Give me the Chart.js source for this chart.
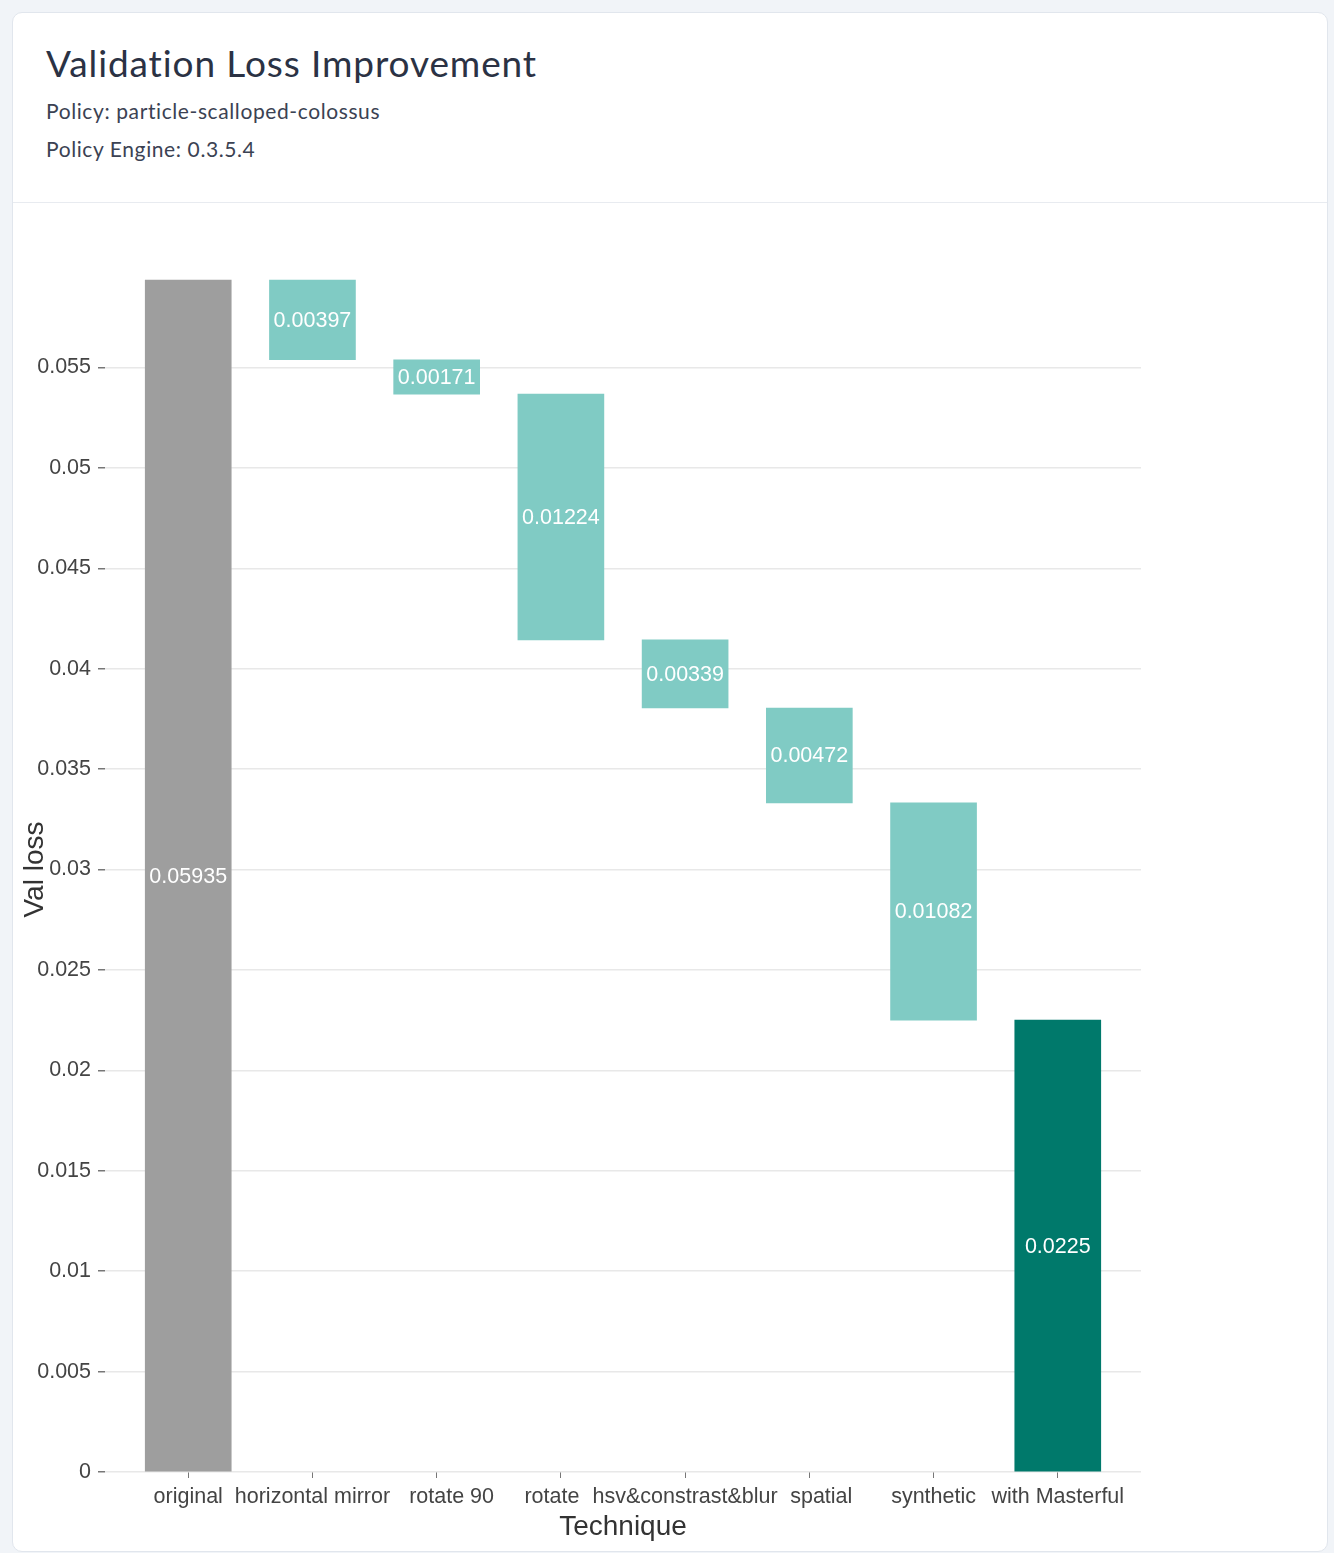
<!DOCTYPE html>
<html>
<head>
<meta charset="utf-8">
<title>Validation Loss Improvement</title>
<script src="https://cdn.jsdelivr.net/npm/chart.js@4.4.0/dist/chart.umd.min.js"></script>
<style>
  html, body { margin: 0; padding: 0; background: #f1f4f8; }
  .card {
    position: absolute; left: 12px; top: 12px;
    width: 1316px; height: 1540px; box-sizing: border-box;
    background: #fff; border: 1px solid #e1e6ed; border-radius: 10px;
  }
  .head { position: absolute; left: 0; top: 0; width: 100%; height: 189px; border-bottom: 1px solid #e8ebf0; }
  .head div { position: absolute; left: 33px; line-height: 1; white-space: nowrap; font-family: Lato, "Noto Sans", sans-serif; }
  .title { top: 31px; font-size: 37px; color: #2b3244; letter-spacing: 0.9px; }
  .sub { font-size: 21px; color: #3b4253; letter-spacing: 0.6px; }
  .chart-box { position: absolute; left: 0; top: 190px; width: 1314px; height: 1347px; }
</style>
</head>
<body>
<div class="card">
  <div class="head">
    <div class="title">Validation Loss Improvement</div>
    <div class="sub" style="top: 87px;">Policy: particle-scalloped-colossus</div>
    <div class="sub" style="top: 125px;">Policy Engine: 0.3.5.4</div>
  </div>
  <div class="chart-box"><canvas id="lossChart" width="1314" height="1347"></canvas></div>
</div>
<script>
// waterfall steps (names padded so neighbours don't collide), starting loss,
// per-technique improvement, final loss
var steps = ['original', 'horizontal mirror', '     rotate 90', 'rotate   ', 'hsv&constrast&blur', '    spatial', 'synthetic', 'with Masterful'];
var startLoss = 0.05935;
var gains = [0.00397, 0.00171, 0.01224, 0.00339, 0.00472, 0.01082];
var finalLoss = 0.0225;
var yTicks = [0, 0.005, 0.01, 0.015, 0.02, 0.025, 0.03, 0.035, 0.04, 0.045, 0.05, 0.055];

// floating bars: each gain hangs from the running loss
var ranges = [[0, startLoss]];
var labels = [startLoss];
var level = startLoss;
gains.forEach(function (g) {
  ranges.push([level - g, level]);
  labels.push(g);
  level -= g;
});
ranges.push([0, finalLoss]);
labels.push(finalLoss);

var colors = steps.map(function (s, i) {
  if (i === 0) return '#9e9e9e';
  if (i === steps.length - 1) return '#00796b';
  return '#80cbc4';
});

var axisFont = { family: '"Liberation Sans", Arial, sans-serif', size: 21.5 };

// white value text centred in each bar
var barLabels = {
  id: 'barLabels',
  afterDatasetsDraw: function (chart) {
    var ctx = chart.ctx;
    var meta = chart.getDatasetMeta(0);
    ctx.save();
    ctx.font = '21.5px "Liberation Sans", Arial, sans-serif';
    ctx.fillStyle = '#ffffff';
    ctx.textAlign = 'center';
    ctx.textBaseline = 'middle';
    meta.data.forEach(function (bar, i) {
      ctx.fillText(String(labels[i]), bar.x, (bar.y + bar.base) / 2 + 1);
    });
    ctx.restore();
  }
};

var ctx = document.getElementById('lossChart').getContext('2d');
var lossChart = new Chart(ctx, {
  type: 'bar',
  data: {
    datasets: [{
      data: ranges.map(function (r, i) { return { x: i, y: r }; }),
      backgroundColor: colors,
      borderWidth: 0,
      barThickness: 86
    }]
  },
  options: {
    responsive: false,
    animation: false,
    layout: { padding: { top: 64, right: 186, left: 0, bottom: 0 } },
    plugins: { legend: { display: false }, tooltip: { enabled: false } },
    scales: {
      x: {
        type: 'linear',
        offset: false,
        min: -0.67,
        max: 7.67,
        afterBuildTicks: function (scale) {
          scale.ticks = steps.map(function (s, i) { return { value: i }; });
        },
        afterFit: function (scale) { scale.height = 78; },
        ticks: {
          autoSkip: false,
          maxRotation: 0,
          padding: 6,
          color: '#444',
          font: axisFont,
          callback: function (v) { return steps[v]; }
        },
        grid: { offset: false, drawOnChartArea: false, tickLength: 6, tickColor: '#777' },
        border: { display: false },
        title: {
          display: true,
          text: 'Technique',
          color: '#333',
          font: { family: '"Liberation Sans", Arial, sans-serif', size: 28 },
          padding: { top: 0, bottom: 6 }
        }
      },
      y: {
        min: 0,
        max: 0.06,
        afterBuildTicks: function (scale) {
          scale.ticks = yTicks.map(function (v) { return { value: v }; });
        },
        afterFit: function (scale) { scale.width = 92; },
        ticks: {
          padding: 7,
          color: '#444',
          font: axisFont,
          callback: function (v) { return String(+v.toFixed(4)); }
        },
        grid: { color: '#e8e8e8', tickLength: 7, tickColor: '#777', lineWidth: 1.5 },
        border: { display: false },
        title: {
          display: true,
          text: 'Val loss',
          color: '#333',
          font: { family: '"Liberation Sans", Arial, sans-serif', size: 28 },
          padding: { top: 5, bottom: 0 }
        }
      }
    }
  },
  plugins: [barLabels]
});
</script>
</body>
</html>
